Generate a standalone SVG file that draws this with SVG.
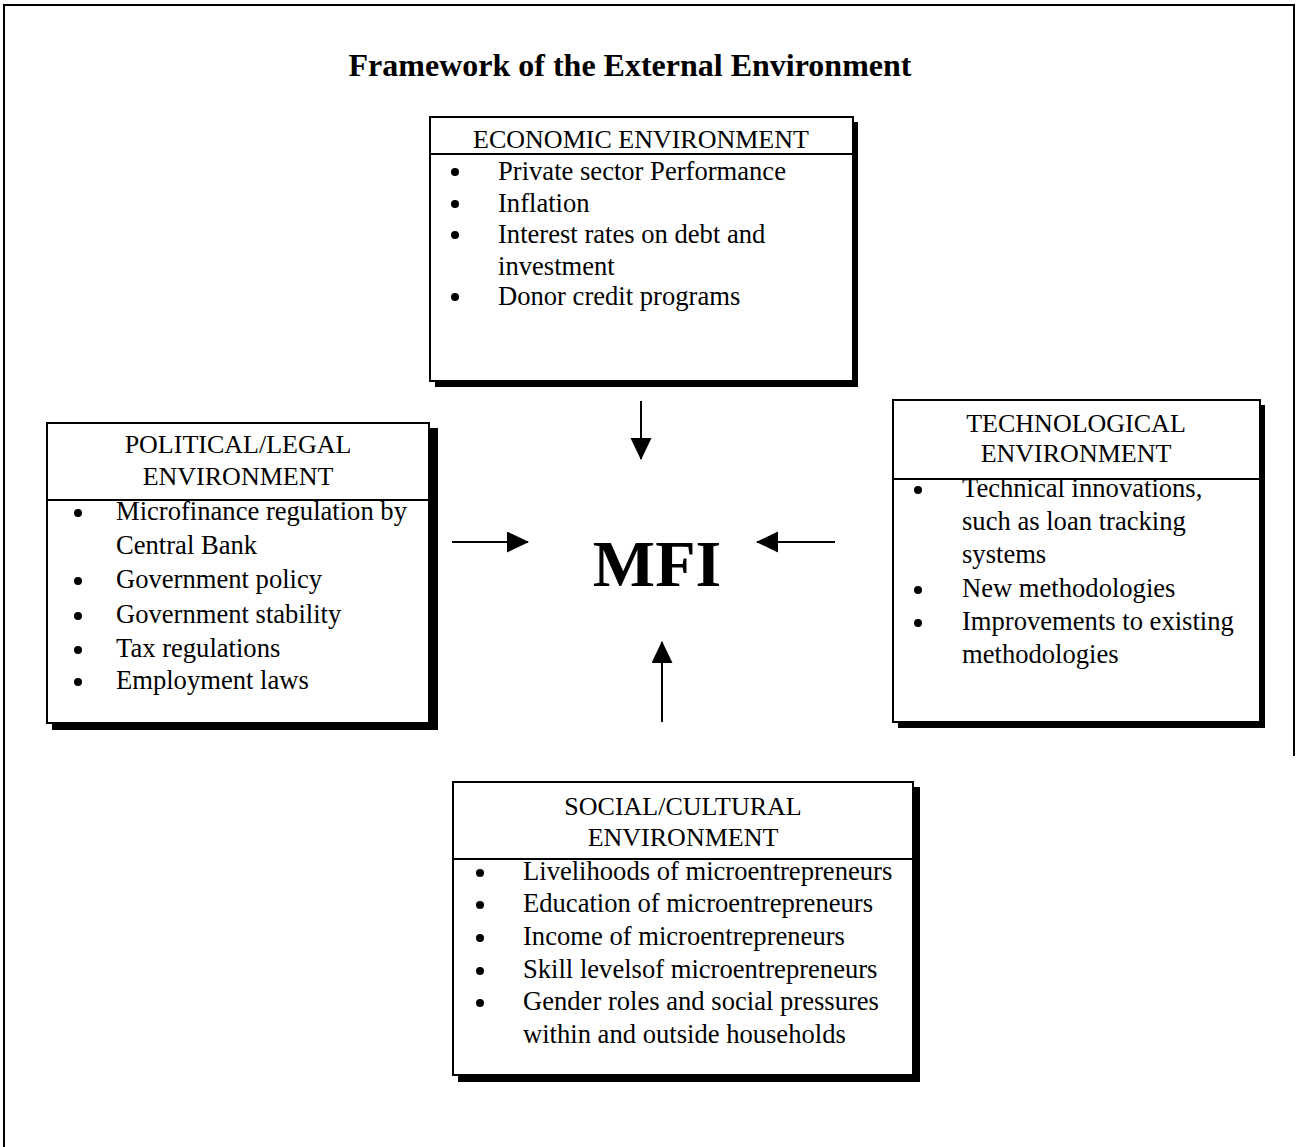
<svg xmlns="http://www.w3.org/2000/svg" width="1298" height="1147" viewBox="0 0 1298 1147">
<style>
text{font-family:"Liberation Serif","Times New Roman",serif;fill:#000}
.t{font-size:26.6px}
.h{font-size:26px;text-anchor:middle}
.title{font-size:32px;font-weight:bold;text-anchor:middle}
.mfi{font-size:66px;font-weight:bold;text-anchor:middle}
.box{fill:#fff;stroke:#000;stroke-width:2}
.sh{fill:#000}
.div{stroke:#000;stroke-width:2}
.frame{stroke:#000;stroke-width:2;fill:none}
.conn{stroke:#000;stroke-width:2;fill:none}
</style>
<defs>
<marker id="ah" markerWidth="22" markerHeight="22" refX="21" refY="10.5" orient="auto" markerUnits="userSpaceOnUse">
<path d="M0,0 L22,10.5 L0,21 Z" fill="#000"/>
</marker>
</defs>
<rect width="1298" height="1147" fill="#fff"/>
<g id="frame">
<path class="frame" d="M4,1147 L4,5 L1294,5 L1294,756"/>
</g>
<text class="title" x="630" y="76">Framework of the External Environment</text>

<g id="economic">
<rect class="sh" x="435" y="122" width="423" height="265"/>
<rect class="box" x="430" y="117" width="423" height="264"/>
<line class="div" x1="430" y1="154" x2="853" y2="154"/>
<text class="h" x="641" y="148">ECONOMIC ENVIRONMENT</text>
<circle cx="455" cy="172" r="4"/><text class="t" x="498" y="180">Private sector Performance</text>
<circle cx="455" cy="204" r="4"/><text class="t" x="498" y="212">Inflation</text>
<circle cx="455" cy="235" r="4"/><text class="t" x="498" y="243">Interest rates on debt and</text>
<text class="t" x="498" y="275">investment</text>
<circle cx="455" cy="297" r="4"/><text class="t" x="498" y="305">Donor credit programs</text>
</g>

<g id="political">
<rect class="sh" x="52" y="428" width="386" height="302"/>
<rect class="box" x="47" y="423" width="382" height="300"/>
<line class="div" x1="47" y1="500" x2="429" y2="500"/>
<text class="h" x="238" y="453">POLITICAL/LEGAL</text>
<text class="h" x="238" y="485">ENVIRONMENT</text>
<circle cx="78" cy="513" r="4"/><text class="t" x="116" y="520">Microfinance regulation by</text>
<text class="t" x="116" y="554">Central Bank</text>
<circle cx="78" cy="581" r="4"/><text class="t" x="116" y="588">Government policy</text>
<circle cx="78" cy="616" r="4"/><text class="t" x="116" y="623">Government stability</text>
<circle cx="78" cy="650" r="4"/><text class="t" x="116" y="657">Tax regulations</text>
<circle cx="78" cy="682" r="4"/><text class="t" x="116" y="689">Employment laws</text>
</g>

<g id="technological">
<rect class="sh" x="898" y="405" width="367" height="323"/>
<rect class="box" x="893" y="400" width="367" height="322"/>
<line class="div" x1="893" y1="479" x2="1260" y2="479"/>
<text class="h" x="1076" y="432">TECHNOLOGICAL</text>
<text class="h" x="1076" y="462">ENVIRONMENT</text>
<circle cx="918" cy="490" r="4"/><text class="t" x="962" y="497">Technical innovations,</text>
<text class="t" x="962" y="530">such as loan tracking</text>
<text class="t" x="962" y="563">systems</text>
<circle cx="918" cy="590" r="4"/><text class="t" x="962" y="597">New methodologies</text>
<circle cx="918" cy="623" r="4"/><text class="t" x="962" y="630">Improvements to existing</text>
<text class="t" x="962" y="663">methodologies</text>
</g>

<g id="social">
<rect class="sh" x="458" y="787" width="462" height="295"/>
<rect class="box" x="453" y="782" width="460" height="293"/>
<line class="div" x1="453" y1="859" x2="913" y2="859"/>
<text class="h" x="683" y="815">SOCIAL/CULTURAL</text>
<text class="h" x="683" y="846">ENVIRONMENT</text>
<circle cx="480" cy="873" r="4"/><text class="t" x="523" y="880">Livelihoods of microentrepreneurs</text>
<circle cx="480" cy="905" r="4"/><text class="t" x="523" y="912">Education of microentrepreneurs</text>
<circle cx="480" cy="938" r="4"/><text class="t" x="523" y="945">Income of microentrepreneurs</text>
<circle cx="480" cy="971" r="4"/><text class="t" x="523" y="978">Skill levelsof microentrepreneurs</text>
<circle cx="480" cy="1003" r="4"/><text class="t" x="523" y="1010">Gender roles and social pressures</text>
<text class="t" x="523" y="1043">within and outside households</text>
</g>

<g id="mfi">
<text class="mfi" x="657" y="586">MFI</text>
</g>

<g id="connectors">
<line class="conn" x1="641" y1="401" x2="641" y2="459" marker-end="url(#ah)"/>
<line class="conn" x1="452" y1="542" x2="528" y2="542" marker-end="url(#ah)"/>
<line class="conn" x1="835" y1="542" x2="757" y2="542" marker-end="url(#ah)"/>
<line class="conn" x1="662" y1="722" x2="662" y2="642" marker-end="url(#ah)"/>
</g>
</svg>
